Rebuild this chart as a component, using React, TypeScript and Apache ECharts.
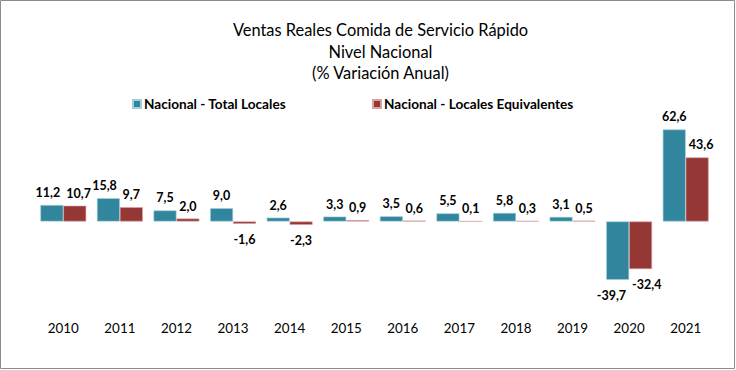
import React, { useEffect, useRef } from "react";
import * as echarts from "echarts";

const years = ["2010", "2011", "2012", "2013", "2014", "2015", "2016", "2017", "2018", "2019", "2020", "2021"];
const totalLocales = [11.2, 15.8, 7.5, 9.0, 2.6, 3.3, 3.5, 5.5, 5.8, 3.1, -39.7, 62.6];
const localesEquiv = [10.7, 9.7, 2.0, -1.6, -2.3, 0.9, 0.6, 0.1, 0.3, 0.5, -32.4, 43.6];
const seriesNames = ["Nacional - Total Locales", "Nacional - Locales Equivalentes"];
const titleLines = ["Ventas Reales Comida de Servicio Rápido", "Nivel Nacional", "(% Variación Anual)"];

const FONT = "Lato";
const Y_MIN = -45;
const Y_MAX = 70;
const GRID_H = 169;
const K = GRID_H / (Y_MAX - Y_MIN);

function toItems(values: number[]) {
  return values.map((v) => ({
    value: v,
    label: v < 0 ? { position: "bottom", distance: 9 } : { position: "top", distance: 6 },
  }));
}

export default function App() {
  const ref = useRef<HTMLDivElement>(null);
  useEffect(() => {
    if (!ref.current) return;
    const chart = echarts.init(ref.current, null, { renderer: "svg" });
    const labelCfg = {
      show: true,
      color: "#000",
      fontFamily: FONT,
      fontSize: 12.5,
      fontWeight: "bold" as const,
      formatter: (p: any) => Number(p.value).toFixed(1).replace(".", ","),
    };
    // Excel-like overlap avoidance: nudge labels sideways when they spill onto the neighbouring bar/label
    const labelLayout = (p: any) => {
      const s = p.seriesIndex;
      const i = p.dataIndex;
      const v = s === 0 ? totalLocales[i] : localesEquiv[i];
      const o = s === 0 ? localesEquiv[i] : totalLocales[i];
      if (Math.sign(v) !== Math.sign(o)) return {};
      const spill = (p.labelRect.width - p.rect.width) / 2;
      if (spill <= 0) return {};
      const ext = (8 + p.labelRect.height) / K;
      if (Math.abs(v) < Math.abs(o) + ext) {
        return { dx: (s === 0 ? -1 : 1) * (spill + 3) };
      }
      return {};
    };
    chart.setOption({
      animation: false,
      backgroundColor: "#fff",
      title: {
        text: titleLines.join("\n"),
        left: 375.5,
        textAlign: "center",
        top: 14,
        textStyle: { fontFamily: FONT, fontSize: 16.4, fontWeight: "normal", color: "#000", lineHeight: 21.5 },
      },
      legend: {
        top: 97,
        left: 132,
        padding: 0,
        itemGap: 86,
        itemWidth: 8,
        itemHeight: 8,
        icon: "rect",
        textStyle: { fontFamily: FONT, fontSize: 13.6, fontWeight: "bold", color: "#000", padding: [0, 0, 0, -2] },
        data: seriesNames,
      },
      grid: { left: 35, right: 22, top: 118.6, height: GRID_H, containLabel: false },
      xAxis: {
        type: "category",
        data: years,
        axisLine: { show: false },
        axisTick: { show: false },
        axisLabel: { margin: 34, fontFamily: FONT, fontSize: 13.4, color: "#000" },
      },
      yAxis: {
        type: "value",
        min: Y_MIN,
        max: Y_MAX,
        show: false,
        splitLine: { show: false },
      },
      series: [
        {
          name: seriesNames[0],
          type: "bar",
          data: toItems(totalLocales),
          barGap: "0%",
          barCategoryGap: "19%",
          itemStyle: { color: "#31859C", borderColor: "#9fd0de", borderWidth: 0.6 },
          label: labelCfg,
          labelLayout,
        },
        {
          name: seriesNames[1],
          type: "bar",
          data: toItems(localesEquiv),
          itemStyle: { color: "#953735", borderColor: "#d9a3a2", borderWidth: 0.6 },
          label: labelCfg,
          labelLayout,
        },
      ],
      graphic: [
        {
          type: "rect",
          shape: { x: 0.5, y: 0.5, width: 734, height: 368 },
          style: { fill: "none", stroke: "#8c8c8c", lineWidth: 1 },
          silent: true,
        },
      ],
    });
    return () => chart.dispose();
  }, []);
  return <div ref={ref} style={{ position: "fixed", left: 0, top: 0, width: 736, height: 370 }} />;
}
